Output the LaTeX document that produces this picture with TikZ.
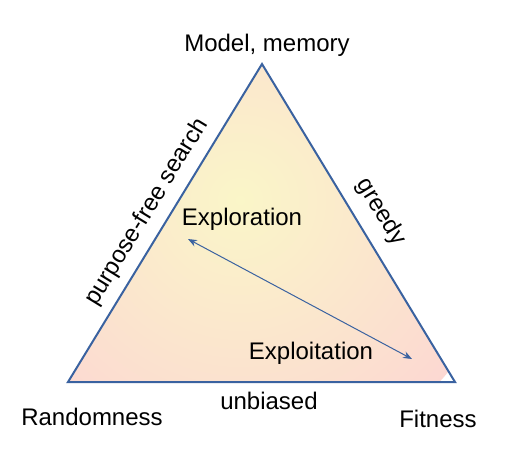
\documentclass[tikz,border=0pt]{standalone}
\usepackage{fontspec}
\setmainfont{Liberation Sans}
\usetikzlibrary{arrows.meta}
\definecolor{edgeblue}{RGB}{58,98,160}
\definecolor{fillyellow}{RGB}{250,246,200}
\definecolor{fillpink}{RGB}{252,216,210}
\tikzset{
  lbl/.style={inner sep=0pt, font=\fontsize{12pt}{14pt}\selectfont, text=black},
  tri/.style={draw=edgeblue, line width=1pt, line join=miter},
  dbl/.style={draw=edgeblue, line width=0.5pt, {Stealth[length=4.5pt,width=3.5pt]}-{Stealth[length=4.5pt,width=3.5pt]}}
}
\begin{document}
\begin{tikzpicture}[x=0.5pt,y=-0.5pt]
\useasboundingbox (0,0) rectangle (524,452);
\coordinate (T) at (262,64);
\coordinate (L) at (68,382);
\coordinate (R) at (455,382);
\begin{scope}
\clip (T) -- (L) -- (R) -- cycle;
\shade[inner color=fillyellow, outer color=fillpink] (240,200) circle (270);
\end{scope}
\draw[tri] (T) -- (L) -- (R) -- cycle;
\coordinate (a1) at (188,239);
\coordinate (a2) at (412,359);
\draw[dbl] (a1) -- (a2);
\node[lbl] (top) at (267,45) {Model, memory};
\node[lbl] (rand) at (92,417) {Randomness};
\node[lbl] (fit) at (438,419) {Fitness};
\node[lbl] (unb) at (269,401) {unbiased};
\node[lbl] (expl) at (242,219) {Exploration};
\node[lbl] (expt) at (311,353) {Exploitation};
\node[lbl, rotate=58.6] (pfs) at (147,212) {purpose-free search};
\node[lbl, rotate=-58.6] (gr) at (381,212) {greedy};
\end{tikzpicture}
\end{document}
